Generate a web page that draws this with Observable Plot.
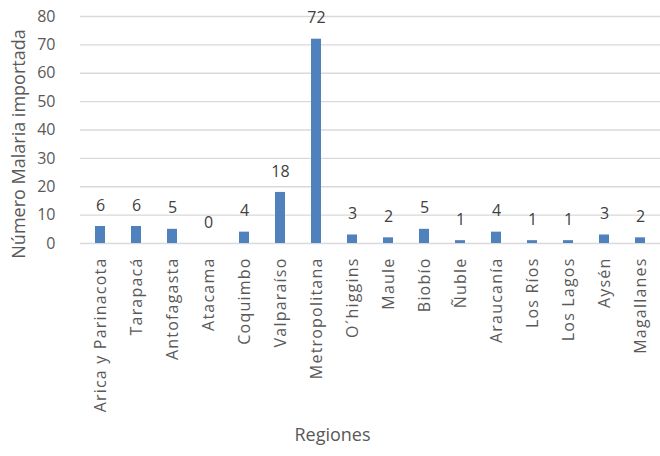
<!DOCTYPE html>
<html>
<head>
<meta charset="utf-8">
<script src="https://cdn.jsdelivr.net/npm/d3@7"></script>
<script src="https://cdn.jsdelivr.net/npm/@observablehq/plot@0.6"></script>
<style>
  body { margin: 0; background: #fff; }
  g[aria-label="x-axis tick label"] { letter-spacing: 1.2px; }
</style>
</head>
<body>
<div id="chart"></div>
<script>
// Imported malaria cases by region
const regiones = [
  "Arica y Parinacota", "Tarapacá", "Antofagasta", "Atacama", "Coquimbo",
  "Valparaíso", "Metropolitana", "O´higgins", "Maule", "Biobío", "Ñuble",
  "Araucanía", "Los Ríos", "Los Lagos", "Aysén", "Magallanes"
];
const casos = [6, 6, 5, 0, 4, 18, 72, 3, 2, 5, 1, 4, 1, 1, 3, 2];
const yTicks = [0, 10, 20, 30, 40, 50, 60, 70, 80];

const data = regiones.map((region, i) => ({ region, casos: casos[i] }));

const chart = Plot.plot({
  width: 660,
  height: 456,
  marginLeft: 80,
  marginRight: 0,
  marginTop: 16,
  marginBottom: 213,
  style: { fontFamily: "'Open Sans', sans-serif", fontSize: "15px", color: "#595959", background: "#fff" },
  x: { domain: regiones, paddingInner: 0.71, paddingOuter: 0.355, label: null },
  y: { domain: [0, 80], label: null },
  marks: [
    Plot.gridY(yTicks, { stroke: "#d9d9d9", strokeOpacity: 1, strokeWidth: 1.3 }),
    Plot.barY(data, { x: "region", y: "casos", fill: "#4f81bd" }),
    Plot.text(data, { x: "region", y: "casos", text: d => String(d.casos), dy: -21, fontSize: 16, fill: "#404040" }),
    Plot.axisY(yTicks, { tickSize: 0, tickPadding: 25, label: null, fontSize: 16, fill: "#595959" }),
    Plot.axisX({ tickSize: 0, tickRotate: -90, tickPadding: 14, label: null, fontSize: 16, fill: "#595959" }),
    Plot.text(["Número Malaria importada"], { frameAnchor: "left", textAnchor: "middle", rotate: -90, dx: -61, dy: 14, fontSize: 18, fill: "#595959" }),
    Plot.text(["Regiones"], { frameAnchor: "bottom", dx: -38, dy: 197, fontSize: 18, fill: "#595959" })
  ]
});

document.getElementById("chart").appendChild(chart);
</script>
</body>
</html>
